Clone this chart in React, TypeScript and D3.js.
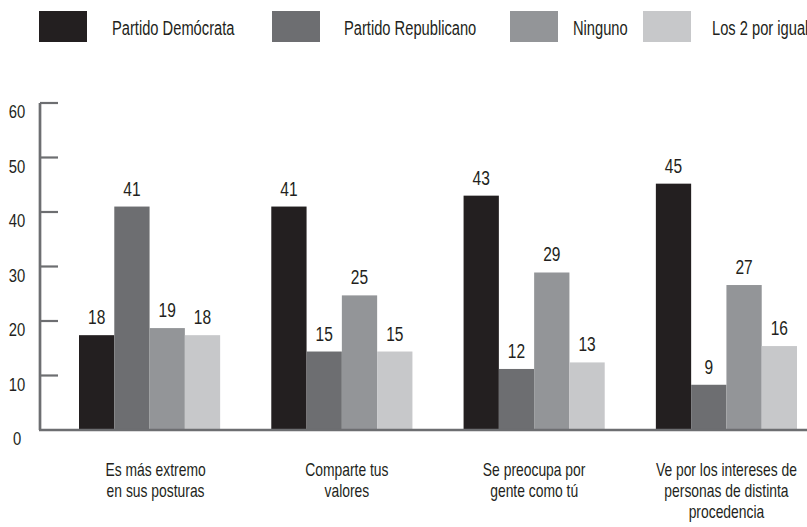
import * as d3 from "d3";

// Grouped bar chart: which party fits each statement (values read against the y axis).

const categories = [
  ["Es más extremo", "en sus posturas"],
  ["Comparte tus", "valores"],
  ["Se preocupa por", "gente como tú"],
  ["Ve por los intereses de", "personas de distinta", "procedencia"],
];

const seriesNames = ["Partido Demócrata", "Partido Republicano", "Ninguno", "Los 2 por igual"];
const seriesColors = ["#231f20", "#6d6e71", "#939598", "#c7c8ca"];

// bar heights as drawn, and the printed labels above them
const democrata = [17.4, 41, 43, 45.2];
const republicano = [41, 14.4, 11.2, 8.3];
const ninguno = [18.7, 24.7, 28.9, 26.6];
const ambos = [17.4, 14.4, 12.4, 15.4];

const democrataLabels = ["18", "41", "43", "45"];
const republicanoLabels = ["41", "15", "12", "9"];
const ningunoLabels = ["19", "25", "29", "27"];
const ambosLabels = ["18", "15", "13", "16"];

const yTicks = [0, 10, 20, 30, 40, 50, 60];

const values = [democrata, republicano, ninguno, ambos];
const labels = [democrataLabels, republicanoLabels, ningunoLabels, ambosLabels];

const W = 807;
const H = 527;
const AXIS = "#6d6e71";
const INK = "#231f20";
// no condensed face available, so squeeze Liberation Sans horizontally
const FONT = "'Liberation Sans', Arial, sans-serif";

// legend layout: square left edge, text left edge
const legendSquareX = [39, 272, 510, 643];
const legendTextX = [112, 344, 573, 712];

function CText({
  x,
  y,
  size,
  sx = 1,
  anchor = "middle",
  children,
}: {
  x: number;
  y: number;
  size: number;
  sx?: number;
  anchor?: string;
  children: React.ReactNode;
}) {
  return (
    <text
      transform={`translate(${x},${y}) scale(${sx},1)`}
      fontSize={size}
      fontFamily={FONT}
      fill={INK}
      textAnchor={anchor}
    >
      {children}
    </text>
  );
}

export default function App() {
  const y = d3.scaleLinear().domain([0, 60]).range([430, 103]);
  const x0 = d3
    .scaleBand<number>()
    .domain(d3.range(categories.length))
    .range([79, 797])
    .paddingInner(0.266)
    .paddingOuter(0);
  const x1 = d3
    .scaleBand<number>()
    .domain(d3.range(seriesNames.length))
    .range([0, x0.bandwidth()])
    .padding(0);

  return (
    <div style={{ position: "absolute", left: 0, top: 0 }}>
      <svg width={W} height={H} style={{ display: "block", background: "#fff" }}>
        {/* legend */}
        {seriesNames.map((name, i) => (
          <g key={name}>
            <rect x={legendSquareX[i]} y={11} width={48} height={31} fill={seriesColors[i]} />
            <CText x={legendTextX[i]} y={35} size={21} sx={0.7} anchor="start">
              {name}
            </CText>
          </g>
        ))}

        {/* bars */}
        {categories.map((_, c) => (
          <g key={c} transform={`translate(${x0(c)},0)`}>
            {values.map((vals, s) => (
              <g key={s}>
                <rect
                  x={x1(s)}
                  y={y(vals[c])}
                  width={x1.bandwidth()}
                  height={y(0) - y(vals[c])}
                  fill={seriesColors[s]}
                />
                <CText x={(x1(s) ?? 0) + x1.bandwidth() / 2} y={y(vals[c]) - 11} size={21} sx={0.74}>
                  {labels[s][c]}
                </CText>
              </g>
            ))}
          </g>
        ))}

        {/* y axis */}
        <line x1={40} x2={40} y1={y(60)} y2={y(0)} stroke={AXIS} strokeWidth={2.7} />
        {yTicks.map((t) => (
          <g key={t}>
            {t > 0 && <line x1={40} x2={58} y1={y(t)} y2={y(t)} stroke={AXIS} strokeWidth={2.2} />}
            <CText x={17} y={y(t) + 15} size={18.5} sx={0.8}>
              {t}
            </CText>
          </g>
        ))}
        <line x1={39} x2={W} y1={y(0)} y2={y(0)} stroke={AXIS} strokeWidth={2.7} />

        {/* category labels */}
        {categories.map((lines, c) => (
          <g key={c}>
            {lines.map((line, k) => (
              <CText
                key={k}
                x={(x0(c) ?? 0) + x0.bandwidth() / 2 + (c === 0 ? 6 : c === 1 ? 5 : 0)}
                y={476 + k * 21}
                size={18.5}
                sx={0.75}
              >
                {line}
              </CText>
            ))}
          </g>
        ))}
      </svg>
    </div>
  );
}
